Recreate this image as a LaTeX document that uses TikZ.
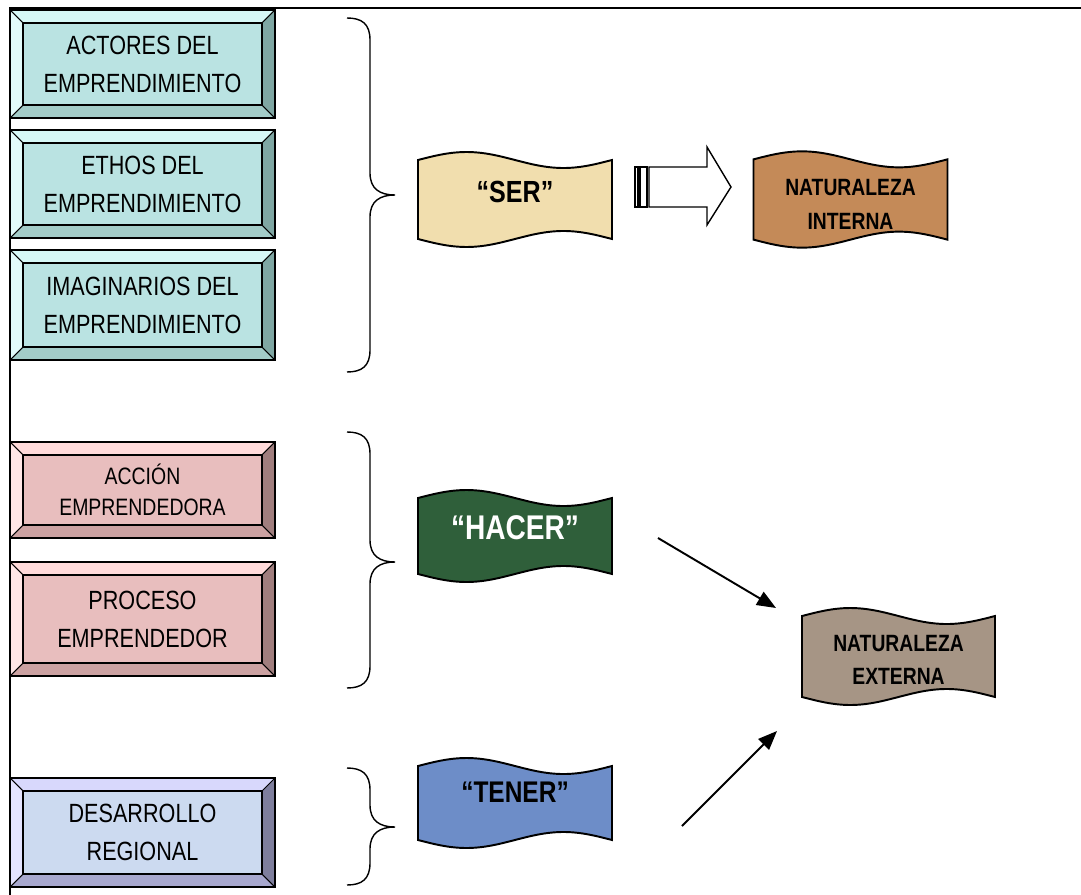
\documentclass[tikz,border=0pt]{standalone}
\usepackage{fontspec}
\setmainfont{Liberation Sans}[FakeStretch=0.82]
\usepackage{xcolor}
\usepackage{tikz}
\usetikzlibrary{positioning,calc,arrows.meta,backgrounds}

\definecolor{aquaface}{HTML}{BAE3E2}
\definecolor{aquatop}{HTML}{D6F8F6}
\definecolor{aqualeft}{HTML}{E2FBFA}
\definecolor{aquaright}{HTML}{7FA7A3}
\definecolor{aquabottom}{HTML}{A3CCC8}
\definecolor{roseface}{HTML}{E8BEBE}
\definecolor{rosetop}{HTML}{FFDADA}
\definecolor{roseleft}{HTML}{FFE6E6}
\definecolor{roseright}{HTML}{A07E7E}
\definecolor{rosebottom}{HTML}{CCA2A2}
\definecolor{lilacface}{HTML}{CCDAF0}
\definecolor{lilactop}{HTML}{D8D8FC}
\definecolor{lilacleft}{HTML}{E4E4FF}
\definecolor{lilacright}{HTML}{7E7E9C}
\definecolor{lilacbottom}{HTML}{A8A8CE}
\definecolor{serfill}{HTML}{F1DEAE}
\definecolor{internafill}{HTML}{C48A58}
\definecolor{hacerfill}{HTML}{2F5F3A}
\definecolor{externafill}{HTML}{A69585}
\definecolor{tenerfill}{HTML}{6D8DC8}

\begin{document}
\begin{tikzpicture}[x=0.02cm, y=-0.02cm,
									bevelbox/.style n args={5}{draw, line width=0.9pt, fill=#1, minimum width=5.3cm, inner sep=0pt, outer sep=0pt, align=center,
										font=\fontsize{15}{21.6}\selectfont,
										path picture={
											\coordinate (bnw) at (path picture bounding box.north west);
											\coordinate (bse) at (path picture bounding box.south east);
											\coordinate (bne) at (bnw -| bse);
											\coordinate (bsw) at (bnw |- bse);
											\coordinate (inw) at ([shift={(0.26cm,-0.26cm)}]bnw);
											\coordinate (ine) at ([shift={(-0.26cm,-0.26cm)}]bne);
											\coordinate (ise) at ([shift={(-0.26cm,0.26cm)}]bse);
											\coordinate (isw) at ([shift={(0.26cm,0.26cm)}]bsw);
											\fill[#2] (bnw) -- (bne) -- (ine) -- (inw) -- cycle;
											\fill[#3] (bnw) -- (inw) -- (isw) -- (bsw) -- cycle;
											\fill[#4] (bne) -- (ine) -- (ise) -- (bse) -- cycle;
											\fill[#5] (bsw) -- (isw) -- (ise) -- (bse) -- cycle;
											\draw[line width=0.9pt] (inw) rectangle (ise);
											\draw[line width=0.6pt] (bnw) -- (inw) (bne) -- (ine) (bse) -- (ise) (bsw) -- (isw);
										}},
									aqua/.style={bevelbox={aquaface}{aquatop}{aqualeft}{aquaright}{aquabottom}},
									rose/.style={bevelbox={roseface}{rosetop}{roseleft}{roseright}{rosebottom}},
									lilac/.style={bevelbox={lilacface}{lilactop}{lilacleft}{lilacright}{lilacbottom}},
									wave/.style={minimum width=3.88cm, inner sep=0pt, outer sep=0pt, align=center},
									link/.style={line width=1.1pt, -{Triangle[length=0.38cm, width=0.3cm]}},
									brace/.style={line width=0.8pt}]
					\useasboundingbox (0,0) rectangle (1081,895);
					\draw[line width=1pt] (1081,8) -- (10,8) -- (10,895);
					
					\node[aqua, minimum height=2.16cm] (actores) at (142.5,64) {ACTORES DEL\\EMPRENDIMIENTO};
					\node[aqua, minimum height=2.16cm] (ethos) at (142.5,184) {ETHOS DEL\\EMPRENDIMIENTO};
					\node[aqua, minimum height=2.2cm] (imaginarios) at (142.5,305) {IMAGINARIOS DEL\\EMPRENDIMIENTO};
					\node[rose, minimum height=1.92cm, font=\fontsize{13.5}{17.6}\selectfont] (accion) at (142.5,490) {ACCIÓN\\EMPRENDEDORA};
					\node[rose, minimum height=2.28cm] (proceso) at (142.5,619) {PROCESO\\EMPRENDEDOR};
					\node[lilac, minimum height=2.18cm] (desarrollo) at (142.5,832.5) {DESARROLLO\\REGIONAL};
					
					\node[wave, minimum height=1.58cm, text depth=0.3cm, font=\bfseries\fontsize{17.4}{20}\selectfont] (ser) at (515,199.5) {“SER”};
					\node[wave, minimum height=1.58cm, font=\bfseries\fontsize{13.4}{19.4}\selectfont] (interna) at (850.5,199.5)
						{\begin{tabular}{@{}c@{}}\rule{0pt}{0.72cm}NATURALEZA\\INTERNA\end{tabular}};
					\node[wave, minimum height=1.52cm, text depth=0.32cm, text=white, font=\bfseries\fontsize{19.5}{22}\selectfont] (hacer) at (515,536) {“HACER”};
					\node[wave, minimum width=3.86cm, minimum height=1.62cm, font=\bfseries\fontsize{13.4}{18.4}\selectfont] (externa) at (898.5,656.5)
						{\begin{tabular}{@{}c@{}}\rule{0pt}{0.65cm}NATURALEZA\\EXTERNA\end{tabular}};
					\node[wave, minimum height=1.48cm, text depth=0.44cm, font=\bfseries\fontsize{17}{20}\selectfont] (tener) at (515,803) {“TENER”};
					
					\begin{scope}[on background layer]
						\foreach \w/\wfill in {ser/serfill, interna/internafill, hacer/hacerfill, externa/externafill, tener/tenerfill}
							\filldraw[fill=\wfill, line width=1.1pt] (\w.north west)
								sin ($(\w.north west)!0.25!(\w.north east)+(0,-8)$)
								cos ($(\w.north west)!0.5!(\w.north east)$)
								sin ($(\w.north west)!0.75!(\w.north east)+(0,8)$)
								cos (\w.north east) -- (\w.south east)
								sin ($(\w.south west)!0.75!(\w.south east)+(0,-8)$)
								cos ($(\w.south west)!0.5!(\w.south east)$)
								sin ($(\w.south west)!0.25!(\w.south east)+(0,8)$)
								cos (\w.south west) -- cycle;
					\end{scope}
					
					\foreach \bt/\bm/\bb in {18/195/372, 432/562/688, 768/827/885}
						\draw[brace] (347,\bt) .. controls (362,\bt) and (370,\bt+6) .. (370,\bt+22) -- (370,\bm-22)
							.. controls (370,\bm-6) and (380,\bm) .. (395,\bm) .. controls (380,\bm) and (370,\bm+6) .. (370,\bm+22)
							-- (370,\bb-22) .. controls (370,\bb-6) and (362,\bb) .. (347,\bb);
					
					\begin{scope}[shift={(ser.east)}, line width=0.6pt]
						\draw (23,-32.5) rectangle (26,7.5) (28,-32.5) rectangle (35,7.5);
						\draw[line width=0.8pt] (37,-32.5) -- (95,-32.5) -- (95,-52.5) -- (119,-12.5) -- (95,25.5) -- (95,7.5) -- (37,7.5) -- cycle;
					\end{scope}
					
					\draw[link] ([shift={(46,2)}]hacer.east) -- ([shift={(-26,-48.5)}]externa.west);
					\draw[link] ([shift={(70,23)}]tener.east) -- ([shift={(-25,74.5)}]externa.west);
				\end{tikzpicture}
\end{document}
